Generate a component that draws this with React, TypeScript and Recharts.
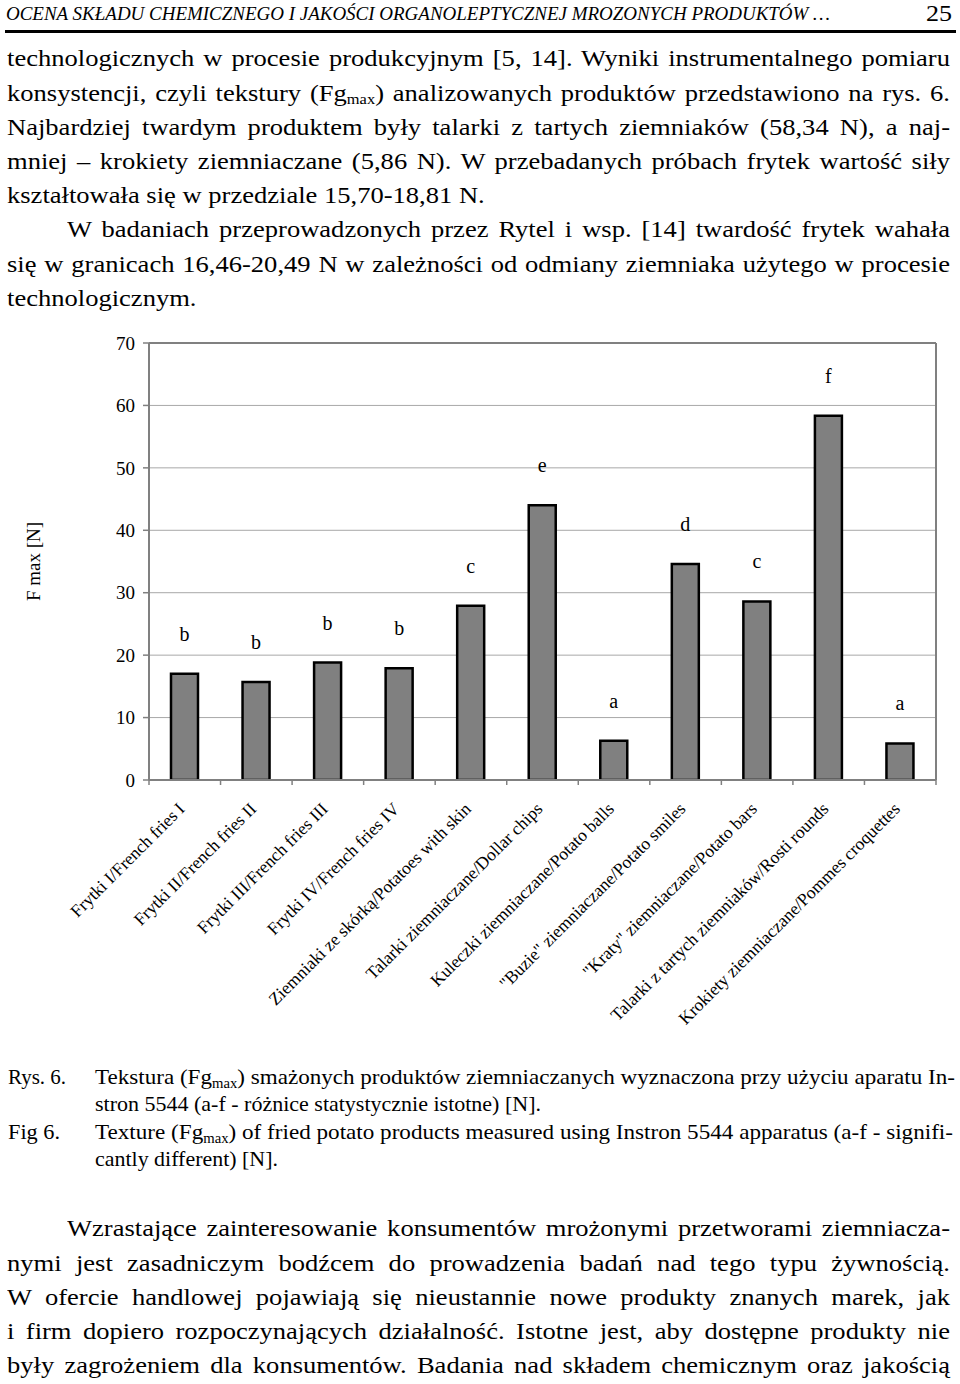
import React from 'react';
import { BarChart, Bar, XAxis, YAxis, CartesianGrid, LabelList, ReferenceLine, Label } from 'recharts';

// ---------- chart data ----------
const categories = [
  'Frytki I/French fries I',
  'Frytki II/French fries II',
  'Frytki III/French fries III',
  'Frytki IV/French fries IV',
  'Ziemniaki ze skórką/Potatoes with skin',
  'Talarki ziemniaczane/Dollar chips',
  'Kuleczki ziemniaczane/Potato balls',
  '"Buzie" ziemniaczane/Potato smiles',
  '"Kraty" ziemniaczane/Potato bars',
  'Talarki z tartych ziemniaków/Rosti rounds',
  'Krokiety ziemniaczane/Pommes croquettes',
];
const fmaxValues = [17.0, 15.7, 18.81, 17.9, 27.9, 44.0, 6.3, 34.6, 28.6, 58.34, 5.86];
const significanceLetters = ['b', 'b', 'b', 'b', 'c', 'e', 'a', 'd', 'c', 'f', 'a'];
const yTicks = [0, 10, 20, 30, 40, 50, 60, 70];
const yAxisTitle = 'F max [N]';

const chartData = categories.map((name, i) => ({
  name,
  value: fmaxValues[i],
  letter: significanceLetters[i],
}));

// ---------- page text ----------
const headerTitle = 'OCENA SKŁADU CHEMICZNEGO I JAKOŚCI ORGANOLEPTYCZNEJ MROZONYCH PRODUKTÓW …';
const pageNumber = '25';

const FONT = '"Liberation Serif", "Times New Roman", Times, serif';
const CHART_W = 960;
const CHART_H = 730;
const MARGIN = { top: 23, right: 23, bottom: 20, left: 0 };
const Y_AXIS_W = 149;
const RIGHT_AXIS_W = 1;
const BAND = (CHART_W - MARGIN.left - Y_AXIS_W - MARGIN.right - RIGHT_AXIS_W) / categories.length;

function XTick(props: any) {
  const { x, y, payload, index } = props;
  const ax = x + 1;
  const ay = y + 30;
  return (
    <g>
      <line x1={x - BAND / 2} x2={x - BAND / 2} y1={y} y2={y + 5} stroke="#808080" strokeWidth={1.5} />
      {index === categories.length - 1 && (
        <line x1={x + BAND / 2} x2={x + BAND / 2} y1={y} y2={y + 5} stroke="#808080" strokeWidth={1.5} />
      )}
      <text
        x={ax}
        y={ay}
        textAnchor="end"
        transform={`rotate(-45, ${ax}, ${ay})`}
        fontSize={17.6}
        fontFamily={FONT}
        fill="#000"
      >
        {payload.value}
      </text>
    </g>
  );
}

function YTitle(props: any) {
  const vb = props.viewBox || { x: 0, y: MARGIN.top, height: 437 };
  const cx = (vb.x || 0) + 40;
  const cy = vb.y + vb.height / 2;
  return (
    <text
      x={cx}
      y={cy}
      transform={`rotate(-90, ${cx}, ${cy})`}
      textAnchor="middle"
      fontSize={19}
      fontFamily={FONT}
      fill="#000"
    >
      {yAxisTitle}
    </text>
  );
}

function Chart() {
  return (
    <BarChart width={CHART_W} height={CHART_H} data={chartData} margin={MARGIN}>
      <CartesianGrid vertical={false} stroke="#a8a8a8" strokeWidth={1} />
      <XAxis
        dataKey="name"
        interval={0}
        height={250}
        tickLine={false}
        tickSize={0}
        tickMargin={0}
        axisLine={{ stroke: '#808080', strokeWidth: 2 }}
        tick={<XTick />}
      />
      <YAxis
        domain={[0, 70]}
        ticks={yTicks}
        width={Y_AXIS_W}
        tickSize={6}
        tickMargin={8}
        tickLine={{ stroke: '#808080', strokeWidth: 1.5 }}
        axisLine={{ stroke: '#808080', strokeWidth: 2 }}
        tick={{ fontSize: 19, fill: '#000', fontFamily: FONT }}
        allowDataOverflow
      >
        <Label content={<YTitle />} />
      </YAxis>
      <YAxis
        yAxisId="r"
        orientation="right"
        domain={[0, 70]}
        width={RIGHT_AXIS_W}
        tick={false}
        tickLine={false}
        axisLine={{ stroke: '#808080', strokeWidth: 2 }}
      />
      <ReferenceLine y={70} stroke="#808080" strokeWidth={2} />
      <Bar dataKey="value" fill="#808080" stroke="#000" strokeWidth={2.5} barSize={27} isAnimationActive={false}>
        <LabelList dataKey="letter" position="top" offset={33} fontSize={20} fill="#000" fontFamily={FONT} />
      </Bar>
    </BarChart>
  );
}

// ---------- body text helpers ----------
const BODY_SIZE = 22.5;
const STRETCH = 1.18;
const LEFT = 7;
const RIGHT = 950;
const INDENT = 67;

function BodyLine({ baseline, indent, justify, children }: any) {
  const left = indent ? INDENT : LEFT;
  return (
    <div
      style={{
        position: 'absolute',
        left,
        top: baseline - 20.6,
        width: (RIGHT - left) / STRETCH,
        transform: `scaleX(${STRETCH})`,
        transformOrigin: 'left top',
        fontSize: BODY_SIZE,
        lineHeight: '26px',
        whiteSpace: 'nowrap',
        textAlign: justify ? 'justify' : 'left',
        textAlignLast: justify ? 'justify' : 'left',
        color: '#000',
      } as any}
    >
      {children}
    </div>
  );
}

const Sub = () => (
  <span style={{ fontSize: '0.62em', position: 'relative', top: '0.28em' }}>max</span>
);

function Page() {
  const b0 = 67;
  const ls = 34.2;
  const p2 = 1237;
  return (
    <div
      style={{
        position: 'absolute',
        left: 0,
        top: 0,
        width: 960,
        height: 1384,
        background: '#fff',
        overflow: 'hidden',
        fontFamily: FONT,
      }}
    >
      <svg width={960} height={40} style={{ position: 'absolute', left: 0, top: 0 }}>
        <text x={6} y={20} fontSize={19} fontStyle="italic" fontFamily={FONT} textLength={824} lengthAdjust="spacingAndGlyphs">
          {headerTitle}
        </text>
        <text x={926} y={21} fontSize={23} fontFamily={FONT} textLength={26} lengthAdjust="spacingAndGlyphs">
          {pageNumber}
        </text>
        <rect x={5} y={30} width={951} height={3} fill="#000" />
      </svg>

      <BodyLine baseline={b0} justify>technologicznych w procesie produkcyjnym [5, 14]. Wyniki instrumentalnego pomiaru</BodyLine>
      <BodyLine baseline={b0 + ls} justify>konsystencji, czyli tekstury (Fg<Sub />) analizowanych produktów przedstawiono na rys. 6.</BodyLine>
      <BodyLine baseline={b0 + ls * 2} justify>Najbardziej twardym produktem były talarki z tartych ziemniaków (58,34 N), a naj-</BodyLine>
      <BodyLine baseline={b0 + ls * 3} justify>mniej – krokiety ziemniaczane (5,86 N). W przebadanych próbach frytek wartość siły</BodyLine>
      <BodyLine baseline={b0 + ls * 4}>kształtowała się w przedziale 15,70-18,81 N.</BodyLine>
      <BodyLine baseline={b0 + ls * 5} indent justify>W badaniach przeprowadzonych przez Rytel i wsp. [14] twardość frytek wahała</BodyLine>
      <BodyLine baseline={b0 + ls * 6} justify>się w granicach 16,46-20,49 N w zależności od odmiany ziemniaka użytego w procesie</BodyLine>
      <BodyLine baseline={b0 + ls * 7}>technologicznym.</BodyLine>

      <div style={{ position: 'absolute', left: 0, top: 320 }}>
        <Chart />
      </div>

      <svg width={960} height={130} style={{ position: 'absolute', left: 0, top: 1060 }}>
        <g fontFamily={FONT} fontSize={22} fill="#000">
          <text x={8} y={24} textLength={58} lengthAdjust="spacingAndGlyphs">Rys. 6.</text>
          <text x={95} y={24} textLength={860} lengthAdjust="spacingAndGlyphs">
            Tekstura (Fg<tspan fontSize={14} dy={4}>max</tspan><tspan dy={-4}>) smażonych produktów ziemniaczanych wyznaczona przy użyciu aparatu In-</tspan>
          </text>
          <text x={95} y={51} textLength={446} lengthAdjust="spacingAndGlyphs">stron 5544 (a-f - różnice statystycznie istotne) [N].</text>
          <text x={8} y={79} textLength={52} lengthAdjust="spacingAndGlyphs">Fig 6.</text>
          <text x={95} y={79} textLength={858} lengthAdjust="spacingAndGlyphs">
            Texture (Fg<tspan fontSize={14} dy={4}>max</tspan><tspan dy={-4}>) of fried potato products measured using Instron 5544 apparatus (a-f - signifi-</tspan>
          </text>
          <text x={95} y={106} textLength={183} lengthAdjust="spacingAndGlyphs">cantly different) [N].</text>
        </g>
      </svg>

      <BodyLine baseline={p2} indent justify>Wzrastające zainteresowanie konsumentów mrożonymi przetworami ziemniacza-</BodyLine>
      <BodyLine baseline={p2 + ls} justify>nymi jest zasadniczym bodźcem do prowadzenia badań nad tego typu żywnością.</BodyLine>
      <BodyLine baseline={p2 + ls * 2} justify>W ofercie handlowej pojawiają się nieustannie nowe produkty znanych marek, jak</BodyLine>
      <BodyLine baseline={p2 + ls * 3} justify>i firm dopiero rozpoczynających działalność. Istotne jest, aby dostępne produkty nie</BodyLine>
      <BodyLine baseline={p2 + ls * 4} justify>były zagrożeniem dla konsumentów. Badania nad składem chemicznym oraz jakością</BodyLine>
    </div>
  );
}

export default function App() {
  return <Page />;
}
